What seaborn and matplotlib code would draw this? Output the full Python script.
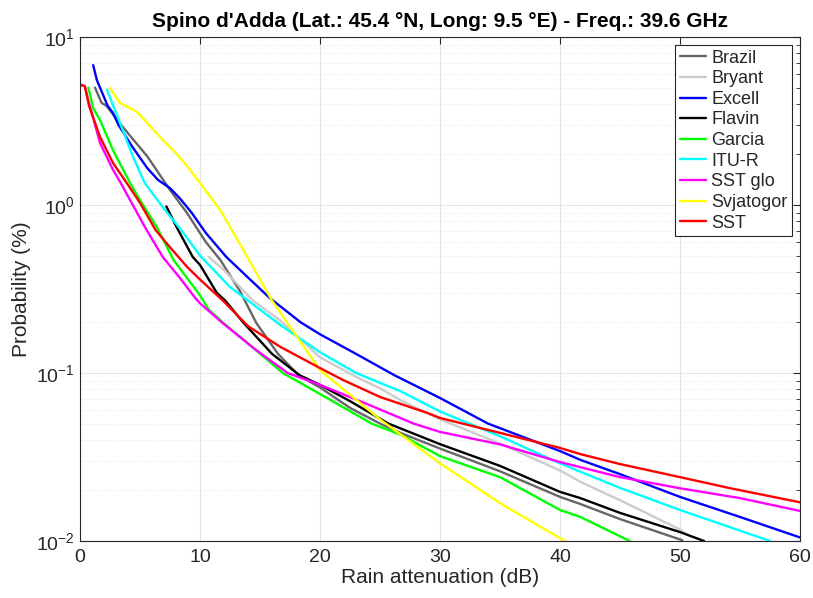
import numpy as np
import pandas as pd
import matplotlib
matplotlib.use("Agg")
import matplotlib.pyplot as plt
import seaborn as sns
from matplotlib.ticker import LogLocator, FixedLocator, NullFormatter
from matplotlib.lines import Line2D

# ---------------- data ----------------
brazil_x = [1.25, 1.8, 2.2, 3.5, 5.6, 7.5, 8.9, 10.5, 11.7, 13.3, 14.7, 16.5, 18.2, 20, 22.5, 25, 26.7, 30, 35, 40, 41.7, 45, 50.2]
brazil_y = [5.0, 4.05, 3.9, 2.95, 1.95, 1.23, 0.9, 0.6, 0.47, 0.31, 0.198, 0.13, 0.097, 0.082, 0.062, 0.05, 0.044, 0.0355, 0.026, 0.0183, 0.0166, 0.0135, 0.0101]

bryant_x = [10.75, 12, 14.4, 16.7, 20, 23, 25, 26.7, 30, 35, 40, 41.7, 45, 50, 50.5]
bryant_y = [0.49, 0.41, 0.27, 0.205, 0.124, 0.095, 0.081, 0.069, 0.053, 0.038, 0.0263, 0.0225, 0.0175, 0.0117, 0.011]

excell_x = [1.1, 1.4, 2.3, 2.75, 3.2, 4.4, 5.6, 6.5, 7.5, 8.3, 9.3, 10.5, 12.2, 14, 15.8, 18.4, 20, 23, 26.2, 30, 34, 40, 41.7, 45, 50, 55, 60]
excell_y = [6.8, 5.55, 3.9, 3.53, 3.0, 2.2, 1.66, 1.41, 1.26, 1.1, 0.9, 0.68, 0.49, 0.37, 0.28, 0.2, 0.17, 0.13, 0.097, 0.071, 0.05, 0.0343, 0.0304, 0.025, 0.0183, 0.0139, 0.0105]

flavin_x = [7.2, 8.0, 9.4, 10, 11.4, 12.1, 13.6, 16, 18.3, 20, 22.5, 25.7, 30, 35, 40, 41.7, 45, 50, 52]
flavin_y = [0.98, 0.75, 0.49, 0.44, 0.3, 0.27, 0.2, 0.13, 0.097, 0.085, 0.068, 0.05, 0.0377, 0.028, 0.0196, 0.018, 0.0147, 0.0113, 0.01]

garcia_x = [0.7, 1.1, 1.67, 2.75, 4.3, 5, 6.4, 7.8, 10, 10.7, 11.9, 14, 16.9, 20, 24.3, 26.7, 30, 35, 40, 41.7, 45.8]
garcia_y = [5.0, 3.77, 3.2, 2.12, 1.3, 1.07, 0.74, 0.47, 0.29, 0.24, 0.2, 0.15, 0.1, 0.075, 0.05, 0.043, 0.032, 0.024, 0.0153, 0.0139, 0.01]

itur_x = [2.25, 3.33, 4.4, 5.4, 7.0, 8.5, 10, 12.5, 16.7, 20, 23, 26.7, 30, 35, 40, 45, 50, 57.5]
itur_y = [4.85, 3.08, 1.95, 1.35, 0.95, 0.7, 0.5, 0.325, 0.193, 0.133, 0.1, 0.078, 0.059, 0.042, 0.029, 0.0207, 0.0153, 0.01]

sstglo_x = [0, 0.4, 0.6, 1.0, 1.67, 2.75, 3.4, 4.4, 5.5, 6.9, 8.3, 9.6, 10, 11.9, 14.5, 17.3, 20, 24, 27.8, 30, 35, 40, 45, 50, 55, 60]
sstglo_y = [5.2, 5.1, 4.4, 3.5, 2.34, 1.62, 1.35, 1.0, 0.72, 0.49, 0.37, 0.28, 0.26, 0.198, 0.14, 0.1, 0.085, 0.065, 0.05, 0.0446, 0.0376, 0.0295, 0.024, 0.0206, 0.018, 0.0151]

svjat_x = [2.5, 3.33, 4.75, 6.9, 7.9, 9, 10, 11.7, 13.3, 16, 20, 25, 30, 35, 40.4]
svjat_y = [4.97, 4.05, 3.58, 2.44, 2.07, 1.68, 1.35, 0.93, 0.59, 0.27, 0.104, 0.053, 0.029, 0.0168, 0.01]

sst_x = [0, 0.4, 0.55, 0.75, 1.67, 2.75, 3.9, 5, 6.3, 7.5, 8.9, 10, 11.9, 14, 16.7, 20, 21.9, 25, 28.9, 30, 35, 40, 41.7, 45, 50, 54.2, 60]
sst_y = [5.2, 5.1, 4.6, 3.9, 2.54, 1.78, 1.35, 1.03, 0.71, 0.56, 0.43, 0.36, 0.27, 0.19, 0.143, 0.107, 0.091, 0.072, 0.058, 0.054, 0.044, 0.0358, 0.0329, 0.0287, 0.024, 0.0206, 0.017]

models = ["Brazil", "Bryant", "Excell", "Flavin", "Garcia", "ITU-R", "SST glo", "Svjatogor", "SST"]
series = [(brazil_x, brazil_y), (bryant_x, bryant_y), (excell_x, excell_y),
          (flavin_x, flavin_y), (garcia_x, garcia_y), (itur_x, itur_y),
          (sstglo_x, sstglo_y), (svjat_x, svjat_y), (sst_x, sst_y)]
colors = ["#666666", "#cccccc", "#0000ff", "#000000", "#00ff00",
          "#00ffff", "#ff00ff", "#ffff00", "#ff0000"]

x_ticks = [0, 10, 20, 30, 40, 50, 60]

frames = []
for m, (xs, ys) in zip(models, series):
    frames.append(pd.DataFrame({"x": xs, "y": ys, "model": m}))
df = pd.concat(frames, ignore_index=True)

# ---------------- style ----------------
sns.set_style("white")
plt.rcParams["font.family"] = ["Liberation Sans", "DejaVu Sans"]
plt.rcParams["mathtext.fontset"] = "custom"
plt.rcParams["mathtext.rm"] = "Liberation Sans"
plt.rcParams["mathtext.it"] = "Liberation Sans:italic"
plt.rcParams["mathtext.bf"] = "Liberation Sans:bold"

ax_col = "#262626"
fig = plt.figure(figsize=(8.13, 5.98), dpi=100)
ax = fig.add_axes([80 / 813, 1 - 541 / 598, 720 / 813, 504 / 598])

sns.lineplot(data=df, x="x", y="y", hue="model", hue_order=models,
             palette=dict(zip(models, colors)), units="model", estimator=None,
             sort=False, linewidth=1.7, ax=ax, legend=False)

ax.set_yscale("log")
ax.set_xlim(0, 60)
ax.set_ylim(1e-2, 1e1)
ax.xaxis.set_major_locator(FixedLocator(x_ticks))
ax.yaxis.set_major_locator(LogLocator(base=10, numticks=10))
ax.yaxis.set_minor_locator(LogLocator(base=10, subs=np.arange(2, 10), numticks=20))
ax.yaxis.set_minor_formatter(NullFormatter())

ax.grid(True, which="major", color="#e3e3e3", linewidth=0.8, linestyle="-")
ax.grid(True, which="minor", axis="y", color="#e6e6e6", linewidth=0.8, linestyle=(0, (1, 2)))
ax.set_axisbelow(True)

for s in ax.spines.values():
    s.set_visible(True)
    s.set_color(ax_col)
    s.set_linewidth(0.8)
ax.tick_params(which="both", direction="in", top=True, right=True, colors=ax_col,
               labelcolor=ax_col, labelsize=14)
ax.tick_params(which="major", length=5, width=0.8)
ax.tick_params(which="minor", length=3, width=0.6)
ax.tick_params(axis="x", pad=6)

ax.set_xlabel("Rain attenuation (dB)", fontsize=15, color=ax_col, labelpad=1)
ax.set_ylabel("Probability (%)", fontsize=15, color=ax_col, labelpad=4)
ax.set_title("Spino d'Adda (Lat.: 45.4 °N, Long: 9.5 °E) - Freq.: 39.6 GHz",
             fontsize=15, fontweight="bold", color="black", pad=7)

handles = [Line2D([0], [0], color=c, lw=1.7) for c in colors]
leg = ax.legend(handles, models, loc="upper right", fontsize=13, frameon=True,
                fancybox=False, framealpha=1, edgecolor=ax_col, handlelength=1.45,
                handletextpad=0.3, labelspacing=0.2, borderpad=0.25,
                borderaxespad=0.45)
leg.get_frame().set_linewidth(0.8)

fig.savefig("out.png", dpi=100)
